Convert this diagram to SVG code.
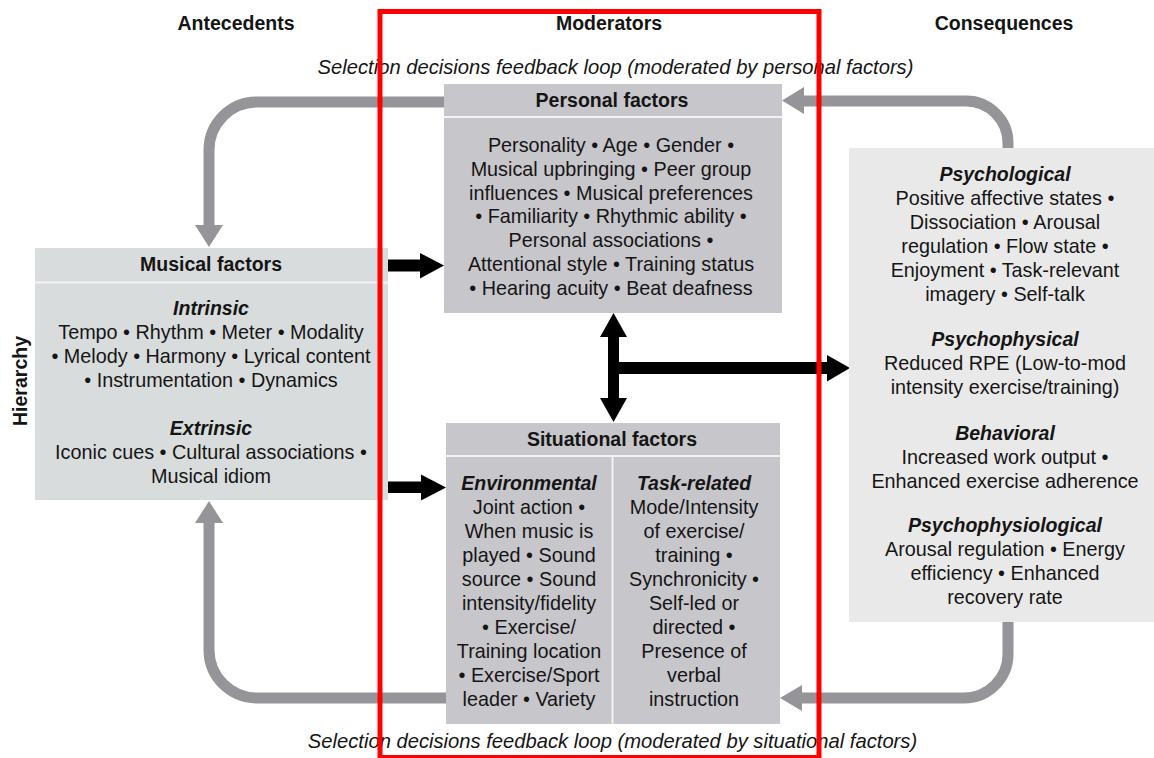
<svg xmlns="http://www.w3.org/2000/svg" width="1154" height="758" viewBox="0 0 1154 758">
<defs>
<style>
text{font-family:"Liberation Sans",Arial,Helvetica,sans-serif;font-size:19.8px;fill:#151515;text-anchor:middle}
.b{font-weight:bold;font-size:19.5px}
.bi{font-weight:bold;font-style:italic;font-size:19.5px}
.i{font-style:italic;font-size:20.2px}
.loop{fill:none;stroke:#959499;stroke-width:11}
.gh{fill:#959499}
.bk{fill:#000}
.sep{stroke:#f4f4f4;stroke-width:2}
</style>
</defs>
<rect width="1154" height="758" fill="#fff"/>

<!-- column titles -->
<text class="b" x="236" y="30">Antecedents</text>
<text class="b" x="609" y="30">Moderators</text>
<text class="b" x="1004" y="30">Consequences</text>
<text class="i" x="615.5" y="74">Selection decisions feedback loop (moderated by personal factors)</text>
<text class="i" x="612.5" y="748">Selection decisions feedback loop (moderated by situational factors)</text>
<text class="b" transform="translate(27,381) rotate(-90)" x="0" y="0">Hierarchy</text>

<!-- connectors -->
<g id="connectors">
  <path class="loop" d="M446,102 H257 A48,48 0 0 0 209,150 V226"/>
  <polygon class="gh" points="195,225 223,225 209,247"/>
  <path class="loop" d="M1008,149 V143 A42,42 0 0 0 966,101 H803"/>
  <polygon class="gh" points="804,87 804,114 782,100.5"/>
  <path class="loop" d="M1008,621 V654 A44,44 0 0 1 964,698 H801"/>
  <polygon class="gh" points="802,685 802,711 780,698"/>
  <path class="loop" d="M447,698 H257 A48,48 0 0 1 209,650 V522"/>
  <polygon class="gh" points="195,523 223,523 209,501"/>
  <polygon class="bk" points="388,259.5 420,259.5 420,253 444,265.5 420,278.5 420,271.5 388,271.5"/>
  <polygon class="bk" points="388,481.5 421,481.5 421,474.5 446,487.5 421,500.5 421,493 388,493"/>
  <polygon class="bk" points="613.5,313 627,337 619,337 619,398 627,398 613.5,422 600,398 608,398 608,337 600,337"/>
  <polygon class="bk" points="613,362 827,362 827,355 850,368 827,381.5 827,374 613,374"/>
</g>

<!-- Musical factors -->
<g id="musical">
  <rect x="35" y="248" width="353" height="252" fill="#d9dcdc"/>
  <line class="sep" x1="35" y1="282.5" x2="388" y2="282.5"/>
  <text class="b" x="211" y="271">Musical factors</text>
  <text class="bi" x="211" y="315">Intrinsic</text>
  <text x="211" y="339">Tempo • Rhythm • Meter • Modality</text>
  <text x="211" y="363">• Melody • Harmony • Lyrical content</text>
  <text x="211" y="387">• Instrumentation • Dynamics</text>
  <text class="bi" x="211" y="435">Extrinsic</text>
  <text x="211" y="459">Iconic cues • Cultural associations •</text>
  <text x="211" y="483">Musical idiom</text>
</g>

<!-- Personal factors -->
<g id="personal">
  <rect x="444" y="84" width="338" height="229" fill="#c7c6ca"/>
  <line class="sep" x1="444" y1="117" x2="782" y2="117"/>
  <text class="b" x="612" y="107">Personal factors</text>
  <text x="611" y="152">Personality • Age • Gender •</text>
  <text x="611" y="176">Musical upbringing • Peer group</text>
  <text x="611" y="200">influences • Musical preferences</text>
  <text x="611" y="223">• Familiarity • Rhythmic ability •</text>
  <text x="611" y="247">Personal associations •</text>
  <text x="611" y="271">Attentional style • Training status</text>
  <text x="611" y="295">• Hearing acuity • Beat deafness</text>
</g>

<!-- Situational factors -->
<g id="situational">
  <rect x="446" y="423" width="334" height="301" fill="#c7c6ca"/>
  <line class="sep" x1="446" y1="456" x2="780" y2="456"/>
  <line class="sep" x1="612.5" y1="456" x2="612.5" y2="724"/>
  <text class="b" x="612" y="446">Situational factors</text>
  <text class="bi" x="529" y="490">Environmental</text>
  <text x="529" y="514">Joint action •</text>
  <text x="529" y="538">When music is</text>
  <text x="529" y="562">played • Sound</text>
  <text x="529" y="586">source • Sound</text>
  <text x="529" y="610">intensity/fidelity</text>
  <text x="529" y="634">• Exercise/</text>
  <text x="529" y="658">Training location</text>
  <text x="529" y="682">• Exercise/Sport</text>
  <text x="529" y="706">leader • Variety</text>
  <text class="bi" x="694" y="490">Task-related</text>
  <text x="694" y="514">Mode/Intensity</text>
  <text x="694" y="538">of exercise/</text>
  <text x="694" y="562">training •</text>
  <text x="694" y="586">Synchronicity •</text>
  <text x="694" y="610">Self-led or</text>
  <text x="694" y="634">directed •</text>
  <text x="694" y="658">Presence of</text>
  <text x="694" y="682">verbal</text>
  <text x="694" y="706">instruction</text>
</g>

<!-- Consequences -->
<g id="consequences">
  <rect x="849" y="148" width="310" height="474" fill="#e9e9e9"/>
  <text class="bi" x="1005" y="181">Psychological</text>
  <text x="1005" y="205">Positive affective states •</text>
  <text x="1005" y="229">Dissociation • Arousal</text>
  <text x="1005" y="253">regulation • Flow state •</text>
  <text x="1005" y="277">Enjoyment • Task-relevant</text>
  <text x="1005" y="301">imagery • Self-talk</text>
  <text class="bi" x="1005" y="346">Psychophysical</text>
  <text x="1005" y="370">Reduced RPE (Low-to-mod</text>
  <text x="1005" y="394">intensity exercise/training)</text>
  <text class="bi" x="1005" y="440">Behavioral</text>
  <text x="1005" y="464">Increased work output •</text>
  <text x="1005" y="488">Enhanced exercise adherence</text>
  <text class="bi" x="1005" y="532">Psychophysiological</text>
  <text x="1005" y="556">Arousal regulation • Energy</text>
  <text x="1005" y="580">efficiency • Enhanced</text>
  <text x="1005" y="604">recovery rate</text>
</g>

<!-- highlight frame -->
<rect id="highlight" x="380" y="11.5" width="439" height="746" fill="none" stroke="#ff0000" stroke-width="5"/>
</svg>
